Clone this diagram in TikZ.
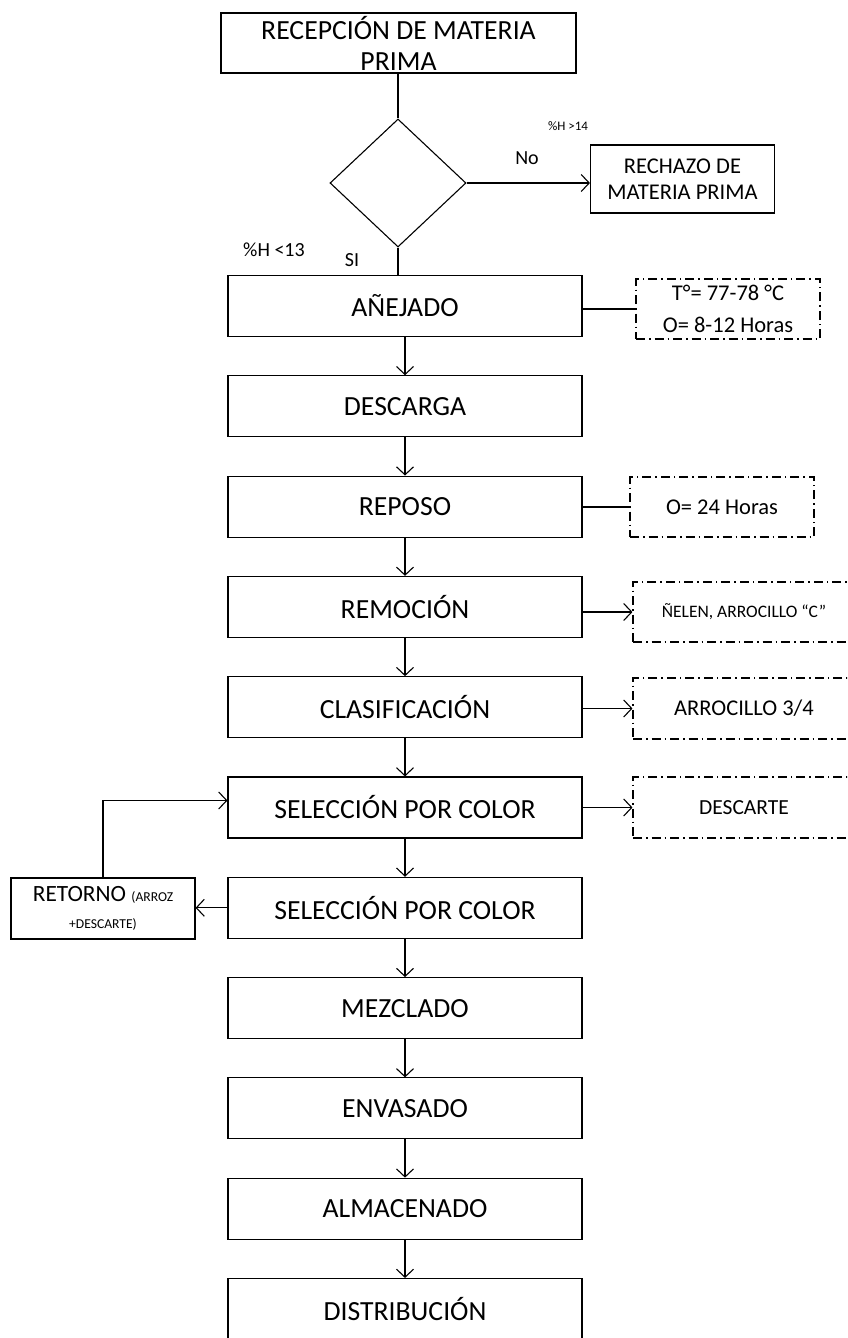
\documentclass[tikz,border=0pt]{standalone}
\usepackage{fontspec}
\setmainfont{Carlito}
\usetikzlibrary{arrows.meta,shapes.geometric}

\tikzset{
  proc/.style={draw, minimum width=354pt, minimum height=61pt, inner sep=0pt, font=\fontsize{27.7}{31}\selectfont},
  rechbox/.style={draw, minimum width=184pt, minimum height=68pt, inner sep=0pt, align=center, font=\fontsize{22.5}{26}\selectfont},
  cond/.style={draw, diamond, aspect=1.06, minimum width=136pt, minimum height=128pt, inner sep=0pt},
  sidebox/.style={draw, dash pattern=on 9pt off 4pt on 1.5pt off 4pt, minimum height=60pt, inner sep=0pt, align=center, font=\fontsize{22.5}{32}\selectfont},
  arr/.style={-{Straight Barb[length=8pt,width=17pt]}},
  lbl/.style={inner sep=0pt, font=\fontsize{20}{24}\selectfont}
}

\begin{document}
\begin{tikzpicture}[x=1pt,y=-1pt,line width=1.1pt]
            \useasboundingbox (0,0) rectangle (847,1338);
            \clip (0,0) rectangle (847,1338);

            \node[proc, minimum width=355pt, minimum height=60pt, align=center] (recep) at (398.5,43) {RECEPCIÓN DE MATERIA\\PRIMA};
            \node[cond] (humedad) at (398,183) {};
            \node[rechbox] (rechazo) at (682.5,179) {RECHAZO DE\\MATERIA PRIMA};

            \foreach \nm/\txt [count=\i from 0] in {anejado/AÑEJADO, descarga/DESCARGA, reposo/REPOSO, remocion/REMOCIÓN, clasif/CLASIFICACIÓN, selec1/SELECCIÓN POR COLOR, selec2/SELECCIÓN POR COLOR, mezcla/MEZCLADO, envasa/ENVASADO, almacen/ALMACENADO, distrib/DISTRIBUCIÓN}
                \node[proc] (\nm) at (405,{306+100.3*\i}) {\txt};

            \node[sidebox, minimum width=184pt] (temp) at (728,309) {T°= 77-78 °C\\O= 8-12 Horas};
            \node[sidebox, minimum width=184pt] (descanso) at (722,507) {O= 24 Horas};
            \node[sidebox, minimum width=222pt, font=\fontsize{17.5}{21}\selectfont] (nelen) at (744,612) {ÑELEN, ARROCILLO “C”};
            \node[sidebox, minimum width=222pt, minimum height=61pt] (arrocillo) at (744,708.5) {ARROCILLO 3/4};
            \node[sidebox, minimum width=222pt, minimum height=61pt, font=\fontsize{21.5}{26}\selectfont] (descarte) at (744,807.5) {DESCARTE};
            \node[draw, minimum width=184pt, minimum height=61pt, inner sep=0pt, align=center, font=\fontsize{23.3}{27}\selectfont] (retorno) at (103,908.5) {RETORNO {\fontsize{13.6}{16}\selectfont(ARROZ}\\{\fontsize{13.6}{16}\selectfont+DESCARTE)}};

            \node[lbl] (no) at (527,158) {No};
            \node[lbl, font=\fontsize{13}{16}\selectfont] (hmax) at (568,126) {\%H >14};
            \node[lbl] (hmin) at (274,250) {\%H <13};
            \node[lbl] (si) at (352,260) {SI};

            \draw (recep.south -| humedad.north) -- (humedad.north);
            \draw[arr] (humedad.east) -- (humedad.east -| rechazo.west);
            \draw (humedad.south) -- (humedad.south |- anejado.north);

            \foreach \a/\b in {anejado/descarga, descarga/reposo, reposo/remocion, remocion/clasif, clasif/selec1, selec1/selec2, selec2/mezcla, mezcla/envasa, envasa/almacen, almacen/distrib}
                \draw[arr] (\a) -- (\b);

            \draw (temp.west -| anejado.east) -- (temp.west);
            \draw (descanso.west -| reposo.east) -- (descanso.west);
            \draw[arr] (nelen.west -| remocion.east) -- (nelen.west);
            \draw[arr] (arrocillo.west -| clasif.east) -- (arrocillo.west);
            \draw[arr] (descarte.west -| selec1.east) -- (descarte.west);

            \draw[arr] (selec2.west) -- (selec2.west -| retorno.east);
            \draw[arr] (retorno.north) |- ([yshift=7pt]selec1.west);
\end{tikzpicture}
\end{document}
